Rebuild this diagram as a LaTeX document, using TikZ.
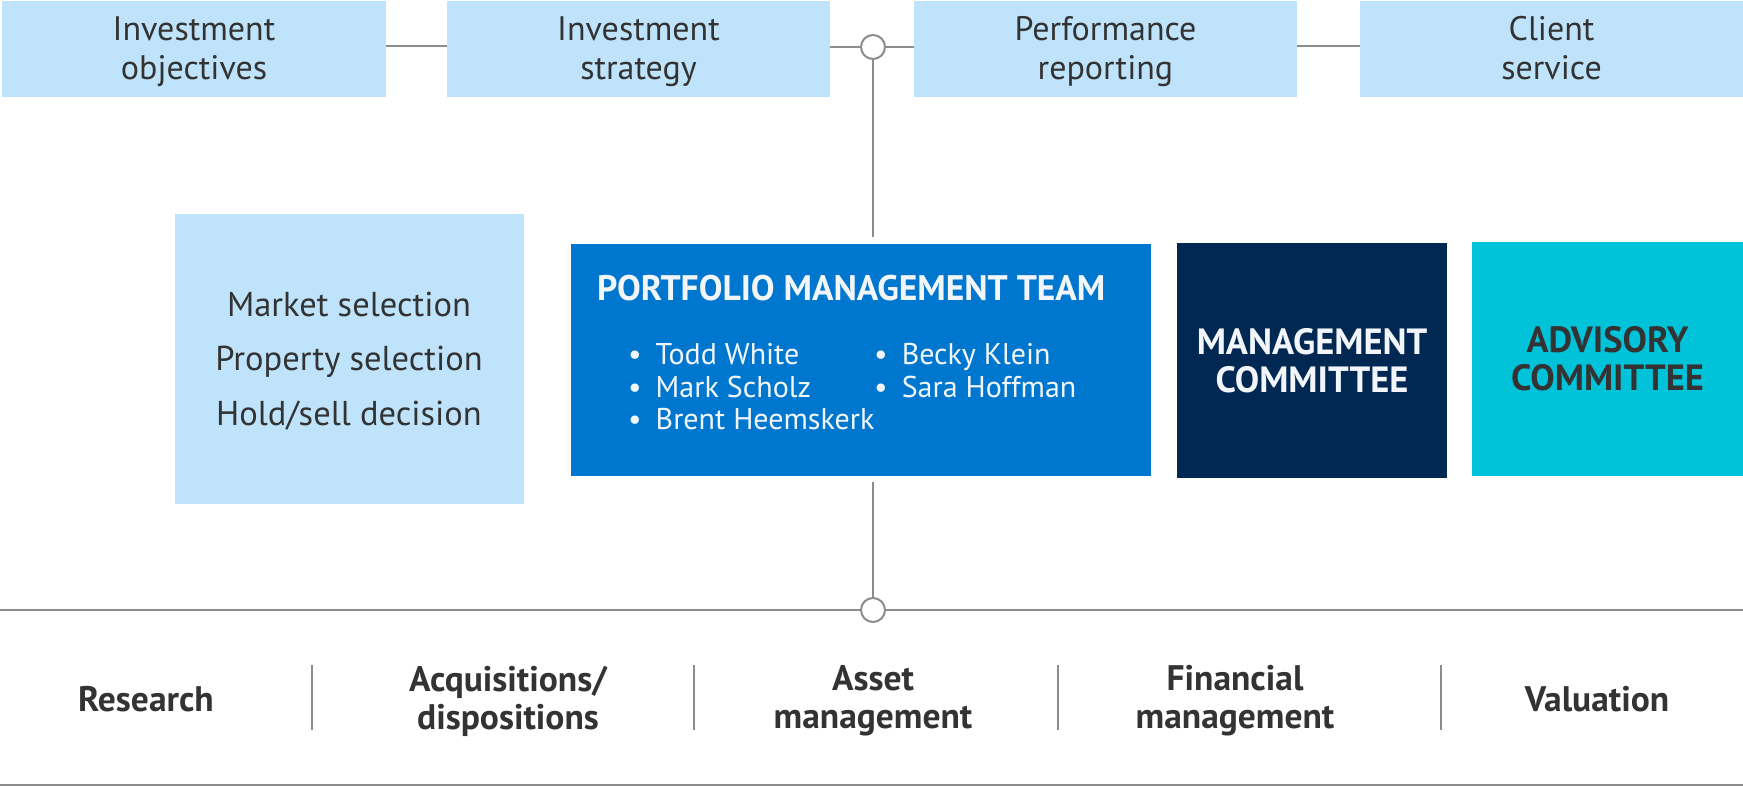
\documentclass[tikz,border=0pt]{standalone}
\usepackage{fontspec}
\setmainfont{PT Sans}
\definecolor{lightb}{HTML}{BEE3FA}
\definecolor{pmtb}{HTML}{0077CF}
\definecolor{navy}{HTML}{002852}
\definecolor{cyanb}{HTML}{00C2D9}
\definecolor{txt}{HTML}{333333}
\definecolor{ln}{HTML}{8C8C8C}
\definecolor{wtxt}{HTML}{F2F6FA}
\tikzset{
  topbox/.style={fill=lightb, draw=none, minimum width=383pt, minimum height=96pt, inner sep=0pt, align=center, text=txt, font=\fontsize{34}{39}\selectfont},
  toptext/.style={align=center, text=txt, inner sep=0pt, font=\fontsize{34}{39}\selectfont},
  conn/.style={draw=ln, line width=2pt},
  hub/.style={circle, draw=ln, fill=white, line width=2pt, minimum size=24pt, inner sep=0pt},
  botlab/.style={align=center, text=txt, font=\fontsize{35.5}{38}\selectfont\bfseries},
  namecol/.style={anchor=north west, align=left, text=wtxt, inner sep=0pt, font=\fontsize{30}{32.3}\selectfont},
}
\begin{document}
\begin{tikzpicture}[x=1pt,y=-1pt]
\useasboundingbox (0,0) rectangle (1743,786);
% top row
\node[topbox, minimum width=384pt] (io) at (194,49) {};
\node[topbox] (is) at (638.5,49) {};
\node[topbox] (pr) at (1105.5,49) {};
\node[topbox] (cs) at (1551.5,49) {};
\node[toptext] (iot) at (194,52) {Investment\\objectives};
\node[toptext] (ist) at (638.5,52) {Investment\\strategy};
\node[toptext] (prt) at (1105.5,52) {Performance\\reporting};
\node[toptext] (cst) at (1551.5,52) {Client\\service\vphantom{g}};
\node[hub] (h1) at (873,47) {};
\draw[conn] (io.east |- 0,46) -- (is.west |- 0,46);
\draw[conn] (is.east |- h1) -- (h1.west);
\draw[conn] (h1.east) -- (pr.west |- h1);
\draw[conn] (pr.east |- 0,46) -- (cs.west |- 0,46);
% middle
\node[fill=lightb, minimum width=349pt, minimum height=289pt, inner sep=0pt] (sel) at (349,359) {};
\node[align=center, text=txt, inner sep=0pt, font=\fontsize{34.5}{54.5}\selectfont] (selt) at (349,361) {Market selection\\Property selection\\Hold/sell decision};
\node[fill=pmtb, minimum width=579.5pt, minimum height=232pt, inner sep=0pt] (pmt) at (861,359.6) {};
\node[anchor=west, inner sep=0pt, text=wtxt, font=\fontsize{35.5}{38}\selectfont\bfseries] (pmtt) at (597,288) {PORTFOLIO MANAGEMENT TEAM};
\node[namecol] (c1) at (628,343.5) {•\hspace{14pt}Todd White\\•\hspace{14pt}Mark Scholz\\•\hspace{14pt}Brent Heemskerk};
\node[namecol] (c2) at (874,343.5) {•\hspace{14pt}Becky Klein\\•\hspace{14pt}Sara Hoffman};
\node[fill=navy, minimum width=270pt, minimum height=234.5pt, inner sep=0pt, align=center, text=wtxt, font=\fontsize{36.5}{38}\selectfont\bfseries] (mc) at (1312,360.7) {MANAGEMENT\\COMMITTEE};
\node[fill=cyanb, minimum width=271pt, minimum height=234pt, inner sep=0pt, align=center, text=txt, font=\fontsize{36.5}{38}\selectfont\bfseries] (ac) at (1607.5,359) {ADVISORY\\COMMITTEE};
% vertical spine
\coordinate (vt) at (873,237.5);
\coordinate (vb) at (873,482);
\node[hub] (h2) at (873,610) {};
\draw[conn] (h1.south) -- (vt);
\draw[conn] (vb) -- (h2.north);
% bottom line
\coordinate (bl) at (0,610);
\coordinate (br) at (1743,610);
\draw[conn] (bl) -- (h2.west);
\draw[conn] (h2.east) -- (br);
\coordinate (fl) at (0,784.5);
\coordinate (fr) at (1743,784.5);
\draw[conn] (fl) -- (fr);
% bottom labels
\node[botlab] (res) at (146,699) {Research};
\node[botlab] (acq) at (508,701) {Acquisitions/\\dispositions};
\node[botlab] (am) at (873,701) {Asset\\management};
\node[botlab] (fm) at (1235,701) {Financial\\management};
\node[botlab] (val) at (1597,699) {Valuation};
\foreach \x/\n in {312/d1,694/d2,1058/d3,1441/d4}{
  \coordinate (\n t) at (\x,665);
  \coordinate (\n b) at (\x,730);
  \draw[conn] (\n t) -- (\n b);
}
\end{tikzpicture}
\end{document}
